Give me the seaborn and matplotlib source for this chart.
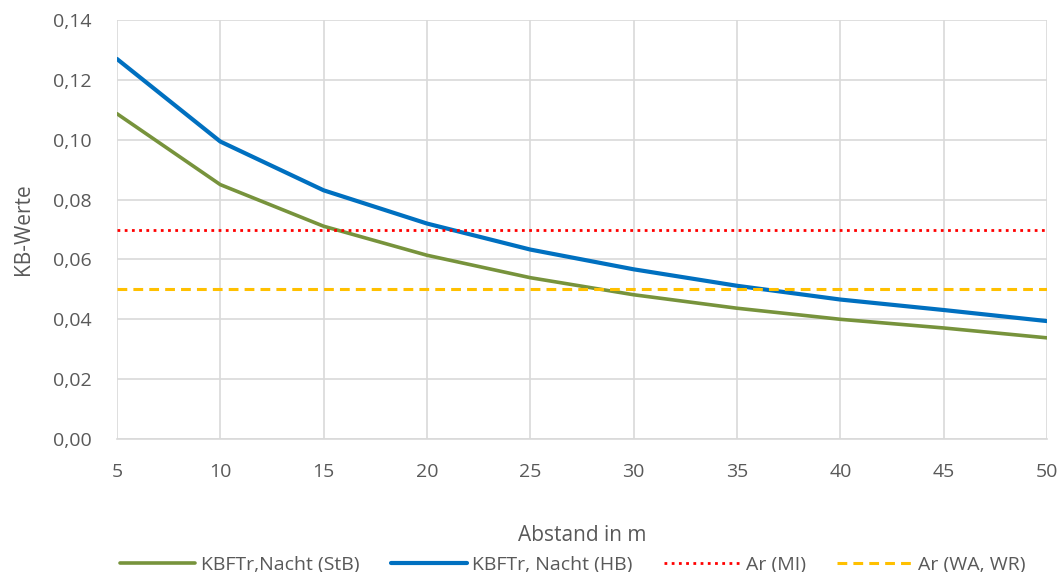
import matplotlib
matplotlib.use("Agg")
import matplotlib.pyplot as plt
import matplotlib.ticker as mticker
import pandas as pd
import seaborn as sns

# distances (m)
abstand = [5, 10, 15, 20, 25, 30, 35, 40, 45, 50]
kb_stb = [0.1087, 0.0850, 0.0711, 0.0614, 0.0539, 0.0482, 0.0437, 0.0400, 0.0371, 0.0338]
kb_hb = [0.1270, 0.0994, 0.0831, 0.0720, 0.0633, 0.0567, 0.0512, 0.0466, 0.0431, 0.0394]
ar_mi = [0.07, 0.07, 0.07, 0.07, 0.07, 0.07, 0.07, 0.07, 0.07, 0.07]
ar_wa = [0.05, 0.05, 0.05, 0.05, 0.05, 0.05, 0.05, 0.05, 0.05, 0.05]

series = ["KBFTr,Nacht (StB)", "KBFTr, Nacht (HB)", "Ar (MI)", "Ar (WA, WR)"]
colors = ["#77933C", "#0070C0", "#FF0000", "#FFC000"]
styles = [dict(lw=2.6), dict(lw=3.0), dict(lw=2.0, ls=(0, (1, 1.6))),
          dict(lw=2.2, ls=(0, (3.2, 2.0)))]

sns.set_theme(style="white")
plt.rcParams["font.family"] = ["Open Sans", "DejaVu Sans"]

df = pd.DataFrame({
    "Abstand": abstand * 4,
    "Wert": kb_stb + kb_hb + ar_mi + ar_wa,
    "Serie": [s for s in series for _ in abstand],
})

fig = plt.figure(figsize=(10.63, 5.72), dpi=100)
ax = fig.add_axes([0.110, 0.2325, 0.875, 0.7325])

for name, col, st in zip(series, colors, styles):
    sub = df[df["Serie"] == name]
    sns.lineplot(data=sub, x="Abstand", y="Wert", color=col, label=name,
                 ax=ax, **st)

ax.set_xlim(5, 50)
ax.set_ylim(0, 0.14)
ax.set_xticks(abstand)
ax.set_yticks([0.00, 0.02, 0.04, 0.06, 0.08, 0.10, 0.12, 0.14])
ax.yaxis.set_major_formatter(
    mticker.FuncFormatter(lambda v, p: f"{v:.2f}".replace(".", ",")))
ax.grid(True, color="#D9D9D9", lw=1.2)
ax.set_axisbelow(True)
for s in ["top", "right", "left"]:
    ax.spines[s].set_visible(False)
ax.spines["bottom"].set_color("#D9D9D9")
ax.spines["bottom"].set_linewidth(1.2)
ax.tick_params(axis="both", length=0, labelsize=14, labelcolor="#595959")
ax.tick_params(axis="x", pad=17)
ax.tick_params(axis="y", pad=18)
ax.set_xlabel("Abstand in m", fontsize=15, color="#595959", labelpad=32)
ax.set_ylabel("KB-Werte", fontsize=15, color="#595959", labelpad=14)

ax.legend(loc="center", bbox_to_anchor=(0.49, -0.3), ncol=4,
          frameon=False, fontsize=14, handlelength=3.9, columnspacing=1.6,
          handletextpad=0.3, labelcolor="#595959")

fig.savefig("out.png", dpi=100)
